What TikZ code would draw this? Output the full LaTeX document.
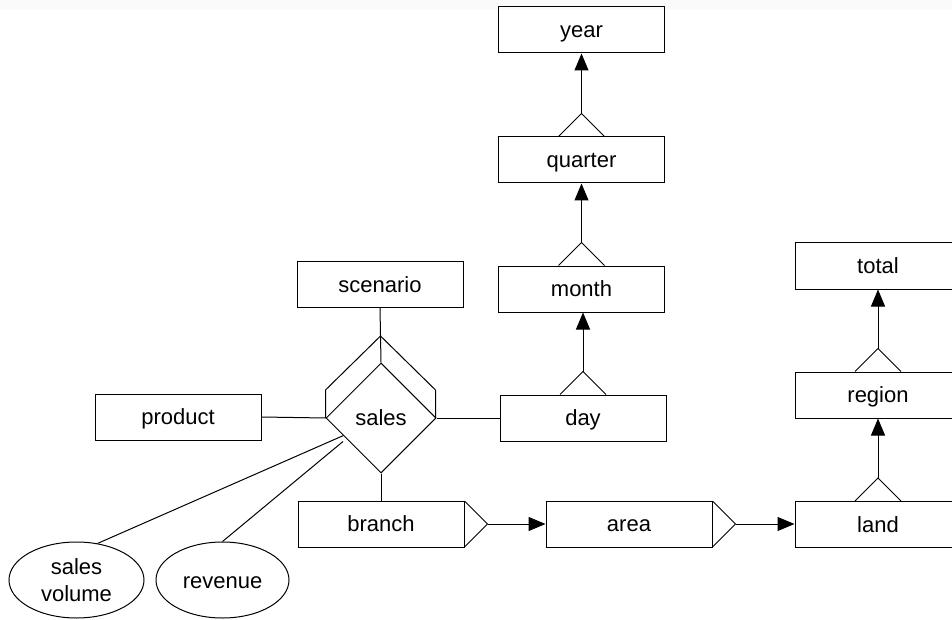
\documentclass[tikz,border=0pt]{standalone}
\usepackage{fontspec}
\setmainfont{Liberation Sans}
\usetikzlibrary{shapes.geometric,arrows.meta}
\begin{document}
\begin{tikzpicture}[x=1pt,y=-1pt,
  every node/.style={font=\fontsize{22}{27.5}\selectfont, text=black, text height=20pt, text depth=4.5pt},
  ent/.style={draw=black, line width=1pt, rectangle, minimum width=166pt, minimum height=46pt, inner sep=0pt},
  attr/.style={draw=black, line width=1pt, ellipse, inner sep=0pt, align=center},
  rel/.style={draw=black, line width=1pt, diamond, minimum size=110pt, inner sep=0pt},
  ln/.style={draw=black, line width=1pt},
  arr/.style={ln, -{Triangle[length=17pt,width=14pt]}}]
\useasboundingbox (0,0) rectangle (952,620);
\clip (0,0) rectangle (952,620);
\fill[fill={rgb,255:red,250;green,250;blue,250}] (0,0) rectangle (952,10);
% entities
\node[ent] (year) at (581.5,30) {year};
\node[ent] (quarter) at (581.5,160) {quarter};
\node[ent] (month) at (581.5,289) {month};
\node[ent] (day) at (583,418) {day};
\node[ent] (scenario) at (380,284.5) {scenario};
\node[ent] (product) at (178,417) {product};
\node[ent] (branch) at (381,524) {branch};
\node[ent] (area) at (629,524) {area};
\node[ent] (land) at (878,524.5) {land};
\node[ent] (region) at (878,395) {region};
\node[ent] (total) at (878,266) {total};
\node[rel] (sales) at (381,418) {sales};
\node[attr, minimum width=135pt, minimum height=76pt, text height=48pt, text depth=4.5pt] (sv) at (76.5,580) {sales\\volume};
\node[attr, minimum width=133pt, minimum height=76pt, text height=21pt, text depth=3.5pt] (rv) at (222.5,580) {revenue};
% stacked roof of the relationship
\draw[ln] (sales.west) -- ++(0,-28) -- ++(55,-54) -- ++(55,54) -- ++(0,28);
% plain connectors
\draw[ln] (scenario.south) -- (sales.north);
\draw[ln] (product.east) -- (sales.west);
\draw[ln] (sales.east) -- (day.west);
\draw[ln] (sales.south) -- (branch.north);
\coordinate (a1) at (343.5,435.5);
\coordinate (a2) at (343,441.5);
\draw[ln] (a1) -- (sv.60);
\draw[ln] (a2) -- (rv.north);
% vertical hierarchies
\draw[ln] ([xshift=-23pt]quarter.north) -- ([yshift=23pt]quarter.north) coordinate (qA) -- ([xshift=23pt]quarter.north);
\draw[arr] (qA) -- (year.south);
\draw[ln] ([xshift=-23pt]month.north) -- ([yshift=23pt]month.north) coordinate (mA) -- ([xshift=23pt]month.north);
\draw[arr] (mA) -- (quarter.south);
\draw[ln] ([xshift=-23pt]day.north) -- ([yshift=23pt]day.north) coordinate (dA) -- ([xshift=23pt]day.north);
\draw[arr] (dA) -- (day.north |- month.south);
\draw[ln] ([xshift=-23pt]region.north) -- ([yshift=23pt]region.north) coordinate (rA) -- ([xshift=23pt]region.north);
\draw[arr] (rA) -- (total.south);
\draw[ln] ([xshift=-23pt]land.north) -- ([yshift=23pt]land.north) coordinate (lA) -- ([xshift=23pt]land.north);
\draw[arr] (lA) -- (region.south);
% horizontal hierarchies
\draw[ln] ([yshift=23pt]branch.east) -- ([xshift=23pt]branch.east) coordinate (bA) -- ([yshift=-23pt]branch.east);
\draw[arr] (bA) -- (area.west);
\draw[ln] ([yshift=23pt]area.east) -- ([xshift=23pt]area.east) coordinate (arA) -- ([yshift=-23pt]area.east);
\draw[arr] (arA) -- (land.west |- arA);
\end{tikzpicture}
\end{document}
